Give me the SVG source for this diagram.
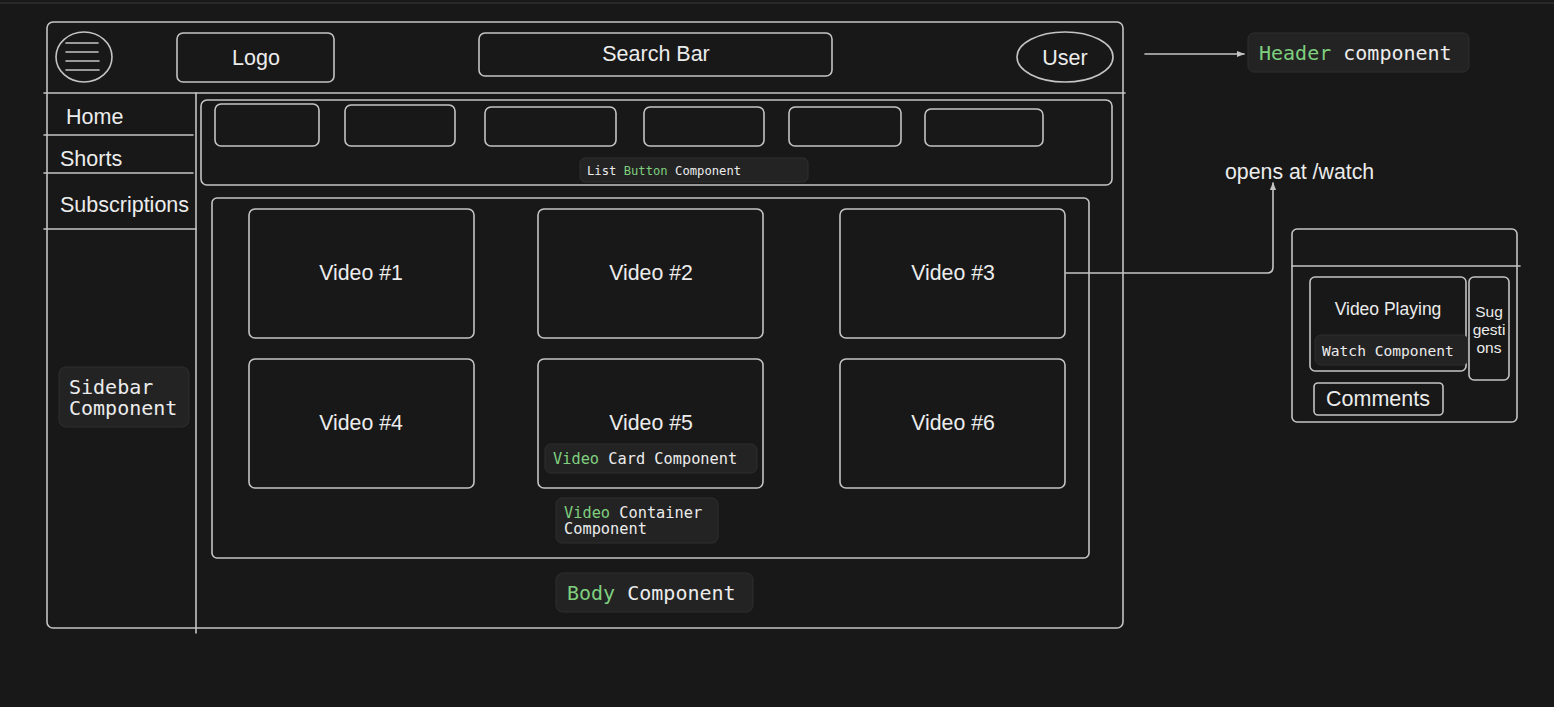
<svg xmlns="http://www.w3.org/2000/svg" width="1554" height="707" viewBox="0 0 1554 707">
<defs>
<style>
.s{fill:none;stroke:#c4c4c4;stroke-width:1.6;stroke-linecap:round}
.t{font-family:"Liberation Sans",Arial,sans-serif;fill:#ececec;text-anchor:middle;dominant-baseline:central}
.tl{font-family:"Liberation Sans",Arial,sans-serif;fill:#ececec;dominant-baseline:central}
.lb{fill:#232323;stroke:#2f2f2f;stroke-width:1}
.m{font-family:"DejaVu Sans Mono","Liberation Mono",monospace;fill:#ececec;dominant-baseline:central}
.g{fill:#7fcf7f}
</style>
<marker id="ah" viewBox="0 0 10 10" refX="9" refY="5" markerWidth="8" markerHeight="8" markerUnits="userSpaceOnUse" orient="auto">
<path d="M0,1 L10,5 L0,9 z" fill="#c4c4c4"/>
</marker>
</defs>
<rect width="1554" height="707" fill="#181818"/>
<line x1="0" y1="3" x2="1554" y2="3" stroke="#3a3a3a" stroke-width="1"/>

<g id="frame">
<rect class="s" x="47" y="22" width="1076" height="606" rx="6"/>
<line class="s" x1="44" y1="93" x2="1125" y2="93"/>
<line class="s" x1="196" y1="93" x2="196" y2="633"/>
</g>

<g id="hamburger">
<ellipse class="s" cx="84" cy="57" rx="28" ry="25"/>
<line class="s" x1="66" y1="43" x2="98" y2="43"/>
<line class="s" x1="66" y1="52" x2="98" y2="52"/>
<line class="s" x1="66" y1="61" x2="99" y2="61"/>
<line class="s" x1="66" y1="70" x2="99" y2="70"/>
</g>
<g id="logo">
<rect class="s" x="177" y="33" width="157" height="49" rx="6"/>
<text class="t" x="256" y="58" font-size="21.5">Logo</text>
</g>
<g id="search">
<rect class="s" x="479" y="33" width="353" height="43" rx="6"/>
<text class="t" x="656" y="54" font-size="21.5">Search Bar</text>
</g>
<g id="user">
<ellipse class="s" cx="1065" cy="57" rx="48" ry="25"/>
<text class="t" x="1065" y="58" font-size="21.5">User</text>
</g>
<g id="header-label">
<rect class="lb" x="1248" y="33" width="221" height="39" rx="6"/>
<text class="m" x="1259" y="53" font-size="20">
<tspan class="g">Header</tspan> component</text>
</g>

<g id="sidebar">
<text class="tl" x="66" y="117" font-size="21.5">Home</text>
<line class="s" x1="44" y1="135" x2="193" y2="135"/>
<text class="tl" x="60" y="159" font-size="21.5">Shorts</text>
<line class="s" x1="44" y1="173" x2="193" y2="173"/>
<text class="tl" x="60" y="205" font-size="21.5">Subscriptions</text>
<line class="s" x1="44" y1="229" x2="196" y2="229"/>
</g>
<g id="sidebar-label">
<rect class="lb" x="59" y="367" width="130" height="60" rx="7"/>
<text class="m" x="69" y="387" font-size="20">Sidebar</text>
<text class="m" x="69" y="408" font-size="20">Component</text>
</g>

<g id="button-list">
<rect class="s" x="201" y="100" width="911" height="85" rx="6"/>
<rect class="s" x="215" y="104" width="104" height="42" rx="6"/>
<rect class="s" x="345" y="105" width="110" height="41" rx="6"/>
<rect class="s" x="485" y="107" width="131" height="39" rx="6"/>
<rect class="s" x="644" y="107" width="120" height="39" rx="6"/>
<rect class="s" x="789" y="107" width="112" height="39" rx="6"/>
<rect class="s" x="925" y="109" width="118" height="37" rx="6"/>
<rect class="lb" x="580" y="158" width="228" height="24" rx="5"/>
<text class="m" x="587" y="171" font-size="12.2">List <tspan class="g">Button</tspan> Component</text>
</g>

<g id="video-container">
<rect class="s" x="212" y="198" width="877" height="360" rx="5"/>
</g>
<g id="video1"><rect class="s" x="249" y="209" width="225" height="129" rx="6"/><text class="t" x="361" y="273" font-size="21.3">Video #1</text></g>
<g id="video2"><rect class="s" x="538" y="209" width="225" height="129" rx="6"/><text class="t" x="651" y="273" font-size="21.3">Video #2</text></g>
<g id="video3"><rect class="s" x="840" y="209" width="225" height="129" rx="6"/><text class="t" x="953" y="273" font-size="21.3">Video #3</text></g>
<g id="video4"><rect class="s" x="249" y="359" width="225" height="129" rx="6"/><text class="t" x="361" y="423" font-size="21.3">Video #4</text></g>
<g id="video5"><rect class="s" x="538" y="359" width="225" height="129" rx="6"/><text class="t" x="651" y="423" font-size="21.3">Video #5</text>
<rect class="lb" x="545" y="444" width="212" height="29" rx="6"/>
<text class="m" x="553" y="459" font-size="15.3"><tspan class="g">Video</tspan> Card Component</text></g>
<g id="video6"><rect class="s" x="840" y="359" width="225" height="129" rx="6"/><text class="t" x="953" y="423" font-size="21.3">Video #6</text></g>
<g id="container-label">
<rect class="lb" x="556" y="498" width="162" height="45" rx="6"/>
<text class="m" x="564" y="513" font-size="15.3"><tspan class="g">Video</tspan> Container</text>
<text class="m" x="564" y="529" font-size="15.3">Component</text>
</g>
<g id="body-label">
<rect class="lb" x="556" y="573" width="197" height="39" rx="7"/>
<text class="m" x="567" y="593" font-size="20"><tspan class="g">Body</tspan> Component</text>
</g>

<g id="connectors">
<line class="s" x1="1145" y1="54" x2="1244" y2="54" marker-end="url(#ah)"/>
<path class="s" d="M1066,273 L1267,273 Q1273,273 1273,267 L1273,183" marker-end="url(#ah)"/>
</g>
<g id="opens-label">
<text class="tl" x="1225" y="172" font-size="21.3">opens at /watch</text>
</g>

<g id="watch-page">
<rect class="s" x="1292" y="229" width="225" height="193" rx="5"/>
<line class="s" x1="1292" y1="266" x2="1520" y2="266"/>
</g>
<g id="video-playing">
<rect class="s" x="1310" y="277" width="156" height="94" rx="5"/>
<text class="t" x="1388" y="309" font-size="17.5">Video Playing</text>
<rect class="lb" x="1315" y="335" width="153" height="30" rx="6"/>
<text class="m" x="1322" y="350" font-size="14.6">Watch Component</text>
</g>
<g id="suggestions">
<rect class="s" x="1469" y="277" width="40" height="103" rx="5"/>
<text class="t" x="1489" y="311" font-size="15.5">Sug</text>
<text class="t" x="1489" y="329" font-size="15.5">gesti</text>
<text class="t" x="1489" y="347" font-size="15.5">ons</text>
</g>
<g id="comments">
<rect class="s" x="1314" y="383" width="129" height="32" rx="4"/>
<text class="t" x="1378" y="399" font-size="21.5">Comments</text>
</g>
</svg>
